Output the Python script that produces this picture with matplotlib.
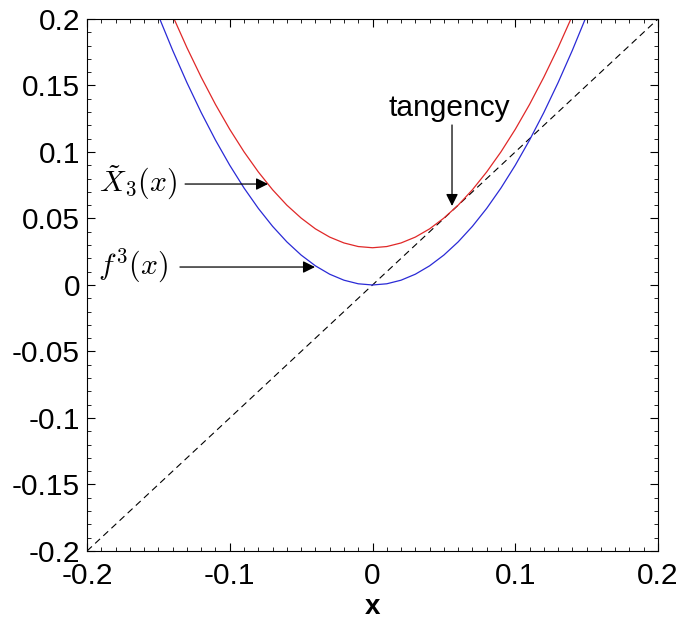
import numpy as np
import matplotlib
matplotlib.use("Agg")
import matplotlib.pyplot as plt
from matplotlib.ticker import MultipleLocator

plt.rcParams['font.family'] = ['Liberation Sans', 'DejaVu Sans']
plt.rcParams['mathtext.fontset'] = 'cm'

# values
x_pts = [-0.15, -0.14, -0.13, -0.12, -0.11, -0.10, -0.09, -0.08, -0.07, -0.06,
         -0.05, -0.04, -0.03, -0.02, -0.01, 0.0, 0.01, 0.02, 0.03, 0.04,
         0.05, 0.06, 0.07, 0.08, 0.09, 0.10, 0.11, 0.12, 0.13, 0.14, 0.15]
f3 = [0.2025, 0.1764, 0.1521, 0.1296, 0.1089, 0.0900, 0.0729, 0.0576, 0.0441, 0.0324,
      0.0225, 0.0144, 0.0081, 0.0036, 0.0009, 0.0, 0.0009, 0.0036, 0.0081, 0.0144,
      0.0225, 0.0324, 0.0441, 0.0576, 0.0729, 0.0900, 0.1089, 0.1296, 0.1521, 0.1764, 0.2025]
x3 = [0.2283, 0.2024, 0.1784, 0.1562, 0.1357, 0.1170, 0.1001, 0.0850, 0.0716, 0.0600,
      0.0503, 0.0422, 0.0360, 0.0316, 0.0289, 0.0280, 0.0289, 0.0316, 0.0360, 0.0422,
      0.0503, 0.0600, 0.0716, 0.0850, 0.1001, 0.1170, 0.1357, 0.1562, 0.1784, 0.2024, 0.2283]
diag = [-0.2, 0.2]
ticks = [-0.2, -0.1, 0, 0.1, 0.2]
yticks = [-0.2, -0.15, -0.1, -0.05, 0, 0.05, 0.1, 0.15, 0.2]
xlabels = ['-0.2', '-0.1', '0', '0.1', '0.2']
ylabels = ['-0.2', '-0.15', '-0.1', '-0.05', '0', '0.05', '0.1', '0.15', '0.2']

fig = plt.figure(figsize=(6.81, 6.2), dpi=100)
ax = fig.add_axes([0.1278, 0.1113, 0.8384, 0.8581])

ax.plot(diag, diag, color='black', ls=(0, (6, 4)), lw=0.8)
ax.plot(x_pts, x3, color='#e02828', lw=0.9)
ax.plot(x_pts, f3, color='#2a2ad6', lw=0.9)

ax.set_xlim(-0.2, 0.2)
ax.set_ylim(-0.2, 0.2)
ax.set_xticks(ticks)
ax.set_xticklabels(xlabels)
ax.set_yticks(yticks)
ax.set_yticklabels(ylabels)
ax.xaxis.set_minor_locator(MultipleLocator(0.01))
ax.yaxis.set_minor_locator(MultipleLocator(0.01))
ax.tick_params(which='both', direction='in', top=True, right=True, labelsize=21.5)
ax.tick_params(which='major', length=6, width=0.8)
ax.tick_params(which='minor', length=3, width=0.6)
ax.tick_params(axis='x', which='major', pad=8)
ax.tick_params(axis='y', which='major', pad=5)
for s in ax.spines.values():
    s.set_linewidth(0.8)

ax.set_xlabel('x', fontsize=20, fontweight='bold', labelpad=3)

arrow = dict(arrowstyle='-|>', color='black', lw=0.9, mutation_scale=18,
             shrinkA=0, shrinkB=0)

# tangency
ax.text(0.0535, 0.1225, 'tangency', fontsize=21.5, ha='center', va='bottom')
ax.annotate('', xy=(0.0557, 0.0594), xytext=(0.0557, 0.1203), arrowprops=arrow)

# X3 tilde
ax.text(-0.137, 0.0767, r'$\tilde{X}_3(x)$', fontsize=21.5, ha='right', va='center')
ax.annotate('', xy=(-0.0732, 0.0759), xytext=(-0.1313, 0.0759), arrowprops=arrow)

# f^3
ax.text(-0.1433, 0.0143, r'$f^3(x)$', fontsize=21.5, ha='right', va='center')
ax.annotate('', xy=(-0.0403, 0.0135), xytext=(-0.1349, 0.0135), arrowprops=arrow)

fig.savefig('out.png', dpi=100)
